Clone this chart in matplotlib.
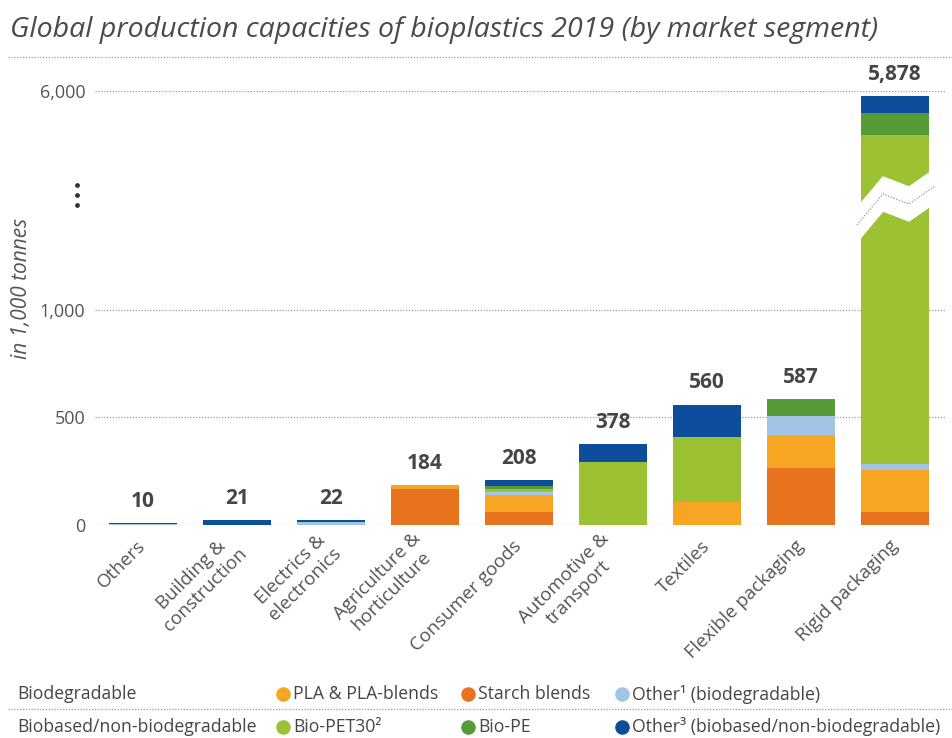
import numpy as np
import matplotlib
matplotlib.use('Agg')
import matplotlib.pyplot as plt

plt.rcParams['font.family'] = ['Open Sans', 'DejaVu Sans']

# ── data (1,000 tonnes) ─────────────────────────────────────────────
categories = ["Others", "Building &\nconstruction", "Electrics &\nelectronics",
              "Agriculture &\nhorticulture", "Consumer goods", "Automotive &\ntransport",
              "Textiles", "Flexible packaging", "Rigid packaging"]

starch      = [0, 0, 0, 166, 60, 0, 0, 265, 60]
pla         = [0, 0, 0, 18, 80, 0, 107, 155, 196]
other_bio   = [4, 0, 16, 0, 15, 0, 0, 85, 28]
bio_pet     = [0, 0, 0, 0, 12, 292, 304, 0, 4704]
bio_pe      = [0, 0, 0, 0, 13, 0, 0, 82, 500]
other_based = [6, 21, 6, 0, 28, 86, 149, 0, 390]

y_ticks = [0, 500, 1000, 6000]

layers = [
    (starch, "#E8731E", "Starch blends"),
    (pla, "#F6A623", "PLA & PLA-blends"),
    (other_bio, "#A2C5E6", "Other¹ (biodegradable)"),
    (bio_pet, "#9CC234", "Bio-PET30²"),
    (bio_pe, "#579B38", "Bio-PE"),
    (other_based, "#0C4D9C", "Other³ (biobased/non-biodegradable)"),
]
colors = {name: c for _, c, name in layers}

# ── broken y axis: linear up to 1,000, compressed above ─────────────
BREAK = 1000.0
K = 0.2037


def fwd(y):
    y = np.asarray(y, dtype=float)
    return np.where(y <= BREAK, y, BREAK + (y - BREAK) * K)


def inv(v):
    v = np.asarray(v, dtype=float)
    return np.where(v <= BREAK, v, BREAK + (v - BREAK) / K)


W, H = 953, 738
fig = plt.figure(figsize=(W / 100, H / 100), dpi=100)

# pixel-space overlay for title, legend, decorations
over = fig.add_axes([0, 0, 1, 1])
over.set_xlim(0, W)
over.set_ylim(H, 0)
over.axis('off')

ax = fig.add_axes([95 / W, 1 - 525 / H, 850 / W, 434 / H])
ax.set_yscale('function', functions=(fwd, inv))
ax.set_ylim(0, 6000)
x = np.arange(len(categories))
ax.set_xlim(-0.511, 8.532)

grey_dot = dict(color="#9a9a9a", linewidth=0.9, linestyle=(0, (1, 1.3)))
for t in y_ticks:
    ax.axhline(t, zorder=0, **grey_dot)

bottom = np.zeros(len(categories))
for vals, col, name in layers:
    vals = np.array(vals, dtype=float)
    ax.bar(x, vals, width=0.73, bottom=bottom, color=col, zorder=2, linewidth=0)
    bottom += vals

totals = bottom
for xi, tot in zip(x, totals):
    ax.annotate(f"{int(tot):,}", (xi, tot), xytext=(0, 8), textcoords='offset points',
                ha='center', va='bottom', fontsize=15, fontweight='bold',
                color="#454545", annotation_clip=False)

for s in ax.spines.values():
    s.set_visible(False)
ax.set_yticks(y_ticks)
ax.set_yticklabels([f"{t:,}" for t in y_ticks])
ax.minorticks_off()
ax.tick_params(axis='y', length=0, pad=7, labelsize=13, labelcolor="#555555")
ax.set_xticks(x)
ax.set_xticklabels(categories, rotation=45, ha='right', va='center',
                   rotation_mode='anchor', multialignment='center')
ax.tick_params(axis='x', length=0, pad=13, labelsize=13.5, labelcolor="#555555")

# zigzag break across the tall bar
bx = 8
zx = np.array([857, 883, 909, 935])
zy = np.array([225, 194, 204, 186])
to_ax = lambda py: (525 - py) / 434
to_dx = lambda px: bx + (px - 895) / 94
poly_x = np.concatenate([to_dx(zx), to_dx(zx[::-1])])
poly_y = np.concatenate([to_ax(zy - 17), to_ax(zy[::-1] + 17)])
ax.fill(poly_x, poly_y, color="white", zorder=3, transform=ax.get_xaxis_transform(),
        clip_on=False)
ax.plot(to_dx(zx), to_ax(zy), zorder=4, transform=ax.get_xaxis_transform(),
        clip_on=False, **grey_dot)

# vertical ellipsis on the axis between 1,000 and 6,000
over.scatter([77, 77, 77], [185, 195, 205], s=12, color="#333333", linewidths=0)

over.text(22, 288, "in 1,000 tonnes", rotation=90, ha='center', va='center',
          fontsize=15, style='italic', color="#555555")

# title
over.text(10, 30, "Global production capacities of bioplastics 2019 (by market segment)",
          ha='left', va='center', fontsize=20.5, style='italic', color="#4a4a4a")
over.plot([8, W], [57, 57], **grey_dot)

# legend rows
txt = dict(fontsize=12.7, color="#454545", va='center')
row1, row2 = 694, 727
over.text(17, row1, "Biodegradable", ha='left', **txt)
over.text(17, row2, "Biobased/non-biodegradable", ha='left', **txt)
over.plot([8, W], [709, 709], **grey_dot)
entries = [
    (283, row1, "PLA & PLA-blends"), (468, row1, "Starch blends"),
    (622, row1, "Other¹ (biodegradable)"),
    (283, row2, "Bio-PET30²"), (468, row2, "Bio-PE"),
    (622, row2, "Other³ (biobased/non-biodegradable)"),
]
for px, py, name in entries:
    over.scatter([px], [py], s=110, color=colors[name], linewidths=0)
    over.text(px + 10, py, name, ha='left', **txt)

fig.savefig("out.png", dpi=100)
